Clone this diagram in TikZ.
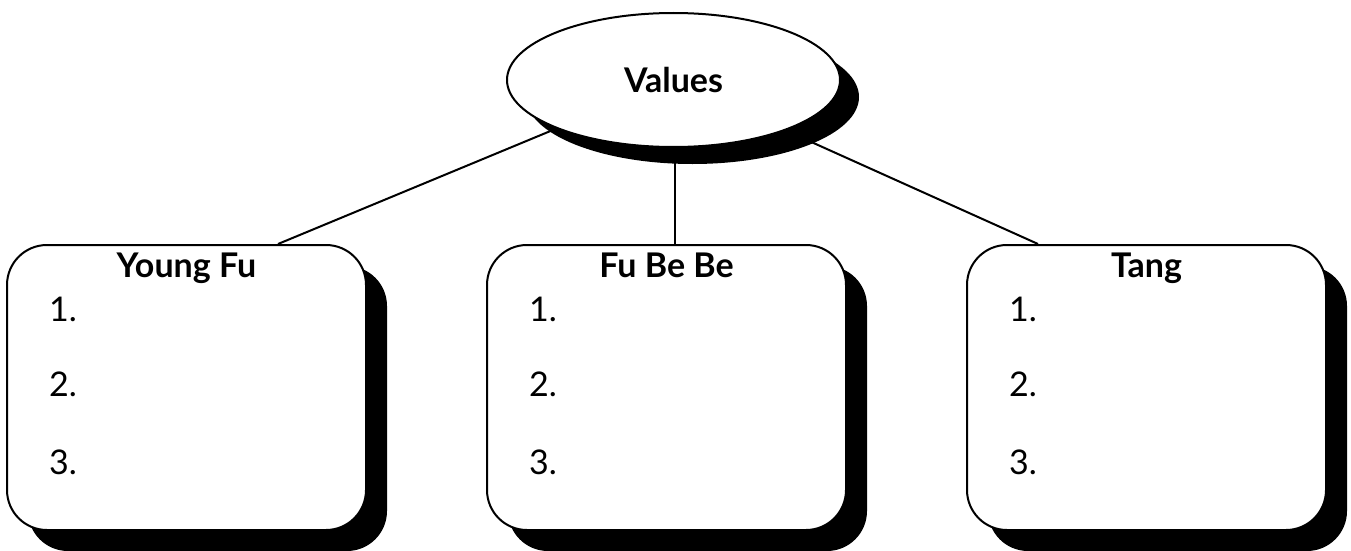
\documentclass[tikz,border=0pt]{standalone}
\usepackage{fontspec}
\setmainfont{Lato}
\usetikzlibrary{shapes.geometric,shadows,backgrounds}
\tikzset{
  topic/.style={ellipse, draw=black, line width=2pt, fill=white,
    minimum width=333pt, minimum height=134pt, inner sep=0pt,
    font=\fontsize{34}{40}\selectfont\bfseries,
    drop shadow={shadow xshift=19pt, shadow yshift=-17pt, opacity=1, fill=black}},
  card/.style={rectangle, rounded corners=40pt, draw=black, line width=2pt, fill=white,
    minimum width=359pt, minimum height=285pt, inner sep=0pt,
    drop shadow={shadow xshift=21pt, shadow yshift=-21pt, opacity=1, fill=black}},
  cardtitle/.style={anchor=base, inner sep=0pt, font=\fontsize{34}{40}\selectfont\bfseries},
  item/.style={anchor=base west, inner sep=0pt, font=\fontsize{34}{40}\selectfont},
  link/.style={draw=black, line width=2pt}
}
\begin{document}
\begin{tikzpicture}[x=1pt, y=-1pt]
\useasboundingbox (0,0) rectangle (1351,551);
\node[topic] (values) at (673.5,80) {Values};
\node[card] (b1) at (186.5,387.5) {};
\node[card] (b2) at (666.5,387.5) {};
\node[card] (b3) at (1146.5,387.5) {};
\foreach \b/\t in {b1/Young Fu, b2/Fu Be Be, b3/Tang}{
  \node[cardtitle] (\b t) at ([yshift=-33pt]\b.north) {\t};
  \node[item] (\b i1) at ([xshift=43pt,yshift=-77pt]\b.north west) {1.};
  \node[item] (\b i2) at ([xshift=43pt,yshift=-152pt]\b.north west) {2.};
  \node[item] (\b i3) at ([xshift=43pt,yshift=-230pt]\b.north west) {3.};
}
\coordinate (e1) at ([xshift=91.5pt]b1.north);
\coordinate (e2) at ([xshift=8.5pt]b2.north);
\coordinate (e3) at ([xshift=-108.5pt]b3.north);
\begin{pgfonlayer}{background}
\draw[link] (values.center) -- (e1);
\draw[link] (e2 |- values.center) -- (e2);
\draw[link] (values.center) -- (e3);
\end{pgfonlayer}
\end{tikzpicture}
\end{document}
